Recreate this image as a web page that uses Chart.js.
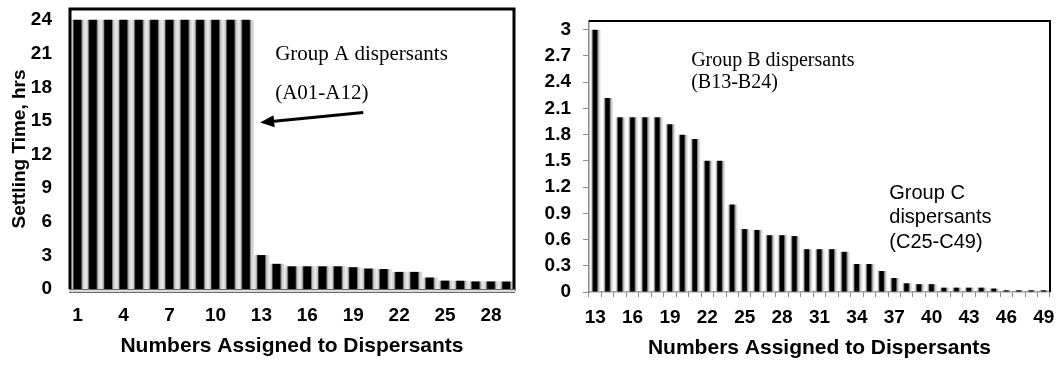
<!DOCTYPE html>
<html>
<head>
<meta charset="utf-8">
<script src="https://cdn.jsdelivr.net/npm/chart.js@4.4.1/dist/chart.umd.min.js"></script>
<style>
  html, body { margin: 0; padding: 0; background: #fff; }
  #wrap { position: relative; width: 1063px; height: 367px; }
  .panel { position: absolute; top: 0; }
</style>
</head>
<body>
<div id="wrap">
  <canvas id="left" class="panel" width="530" height="367" style="left:0"></canvas>
  <canvas id="right" class="panel" width="533" height="367" style="left:530px"></canvas>
</div>
<script>
// Dispersant numbers shown on each panel
const leftNumbers = [1,2,3,4,5,6,7,8,9,10,11,12,13,14,15,16,17,18,19,20,21,22,23,24,25,26,27,28,29];
const rightNumbers = [13,14,15,16,17,18,19,20,21,22,23,24,25,26,27,28,29,30,31,32,33,34,35,36,37,38,39,40,41,42,43,44,45,46,47,48,49];

// Settling time (hrs): group A (1-12) and groups B/C (13-49)
const groupA = [24,24,24,24,24,24,24,24,24,24,24,24];
const groupBC = [3.0,2.22,2.0,2.0,2.0,2.0,1.92,1.8,1.75,1.5,1.5,1.0,
                 0.72,0.71,0.65,0.65,0.64,0.49,0.49,0.49,0.46,0.32,0.32,0.24,0.16,
                 0.1,0.09,0.09,0.05,0.05,0.05,0.05,0.04,0.02,0.02,0.02,0.02];
const leftValues = groupA.concat(groupBC.slice(0, leftNumbers.length - groupA.length));
const rightValues = groupBC;

// Tick labels
const leftYTicks = [0,3,6,9,12,15,18,21,24];
const rightYTicks = [0,0.3,0.6,0.9,1.2,1.5,1.8,2.1,2.4,2.7,3];

const SANS = '"Liberation Sans", Arial, sans-serif';
const SERIF = '"Liberation Serif", "Times New Roman", serif';

// Shaded bar fill: soft black core with a grey sheen on its right side
function barShade(stops, frac) {
  return (c) => {
    const chart = c.chart;
    const xs = chart.scales.x;
    if (!xs || c.dataIndex === undefined) return '#000';
    const cx = xs.getPixelForValue(c.dataIndex);
    const cw = Math.abs(xs.getPixelForValue(1) - xs.getPixelForValue(0));
    if (!isFinite(cx) || !isFinite(cw) || cw === 0) return '#000';
    const bw = cw * frac;
    const g = chart.ctx.createLinearGradient(cx - bw / 2, 0, cx + bw / 2, 0);
    stops.forEach(s => g.addColorStop(s[0], s[1]));
    return g;
  };
}

// Plot frame
const framePlugin = {
  id: 'frame',
  afterDatasetsDraw(chart, args, o) {
    const { left, top, right, bottom } = chart.chartArea;
    const ctx = chart.ctx;
    ctx.save();
    ctx.strokeStyle = '#000';
    ctx.lineWidth = o.width;
    ctx.beginPath();
    if (o.leftSide) { ctx.moveTo(left, bottom); ctx.lineTo(left, top); } else { ctx.moveTo(left, top); }
    ctx.lineTo(right, top);
    ctx.lineTo(right, bottom + (o.band ? 2 : 0));
    ctx.stroke();
    if (o.band) {
      ctx.fillStyle = '#dadada';
      ctx.fillRect(left - 1, bottom, right - left + 2, 3);
      ctx.strokeStyle = '#6a6a6a';
      ctx.lineWidth = 1;
      ctx.beginPath();
      ctx.moveTo(left - 1, bottom + 0.5); ctx.lineTo(right + 1, bottom + 0.5);
      ctx.moveTo(left - 1, bottom + 3.5); ctx.lineTo(right + 1, bottom + 3.5);
      ctx.stroke();
    }
    ctx.restore();
  }
};

// Text notes placed in data coordinates
const notesPlugin = {
  id: 'notes',
  afterDraw(chart, args, o) {
    const ctx = chart.ctx;
    const xs = chart.scales.x, ys = chart.scales.y;
    ctx.save();
    ctx.fillStyle = '#000';
    ctx.textBaseline = 'middle';
    ctx.textAlign = 'left';
    (o.items || []).forEach(it => {
      ctx.font = it.font;
      ctx.fillText(it.text, xs.getPixelForValue(it.x), ys.getPixelForValue(it.y));
    });
    (o.arrows || []).forEach(a => {
      const x1 = xs.getPixelForValue(a.from[0]), y1 = ys.getPixelForValue(a.from[1]);
      const x2 = xs.getPixelForValue(a.to[0]), y2 = ys.getPixelForValue(a.to[1]);
      const ang = Math.atan2(y2 - y1, x2 - x1);
      const hl = 14, hw = 6;
      const bx = x2 - hl * Math.cos(ang), by = y2 - hl * Math.sin(ang);
      ctx.strokeStyle = '#000';
      ctx.lineWidth = 3;
      ctx.beginPath();
      ctx.moveTo(x1, y1);
      ctx.lineTo(bx, by);
      ctx.stroke();
      ctx.beginPath();
      ctx.moveTo(x2, y2);
      ctx.lineTo(bx + hw * Math.sin(ang), by - hw * Math.cos(ang));
      ctx.lineTo(bx - hw * Math.sin(ang), by + hw * Math.cos(ang));
      ctx.closePath();
      ctx.fill();
    });
    ctx.restore();
  }
};

function keepTicks(list) {
  return (scale) => {
    scale.ticks = list.map(v => ({ value: v }));
  };
}

// Fixed axis sizes so both plot boxes land where they should
function fixWidth(w) {
  return (s) => { s.width = w; s.paddingTop = 0; s.paddingBottom = 0; };
}
function fixHeight(h) {
  return (s) => { s.height = h; s.paddingLeft = 0; s.paddingRight = 0; };
}

const tickFont = { family: SANS, size: 19, weight: 'bold' };
const xTitleFont = { family: SANS, size: 21, weight: 'bold' };
const yTitleFont = { family: SANS, size: 19, weight: 'bold' };

Chart.defaults.animation = false;
Chart.defaults.color = '#000';

// Panel 1: all dispersants 1-29 (hours scale)
new Chart(document.getElementById('left'), {
  type: 'bar',
  data: {
    labels: leftNumbers,
    datasets: [{
      data: leftValues,
      barPercentage: 1,
      categoryPercentage: 1,
      borderWidth: 0,
      backgroundColor: barShade([
        [0, '#efefef'], [0.17, '#c4c4c4'], [0.24, '#333'], [0.29, '#000'],
        [0.71, '#000'], [0.77, '#707070'], [0.85, '#cfcfcf'], [1, '#dedede']
      ], 1)
    }]
  },
  options: {
    responsive: false,
    layout: { padding: { left: 0, top: 9, right: 16, bottom: 0 } },
    plugins: {
      legend: { display: false },
      tooltip: { enabled: false },
      frame: { width: 3, leftSide: true, band: true },
      notes: {
        items: [
          { text: 'Group A dispersants', x: 12.9, y: 20.9, font: '21px ' + SERIF },
          { text: '(A01-A12)', x: 12.9, y: 17.5, font: '21px ' + SERIF }
        ],
        arrows: [{ from: [18.65, 15.76], to: [11.92, 14.86] }]
      }
    },
    scales: {
      x: {
        grid: { display: false, drawTicks: false },
        border: { display: false },
        ticks: {
          autoSkip: false, maxRotation: 0, padding: 15, font: tickFont,
          callback(v, i) { return i % 3 === 0 ? String(leftNumbers[i]) : ''; }
        },
        title: { display: true, text: 'Numbers Assigned to Dispersants', font: xTitleFont, padding: { top: 0, bottom: 8 } },
        afterFit: fixHeight(78)
      },
      y: {
        min: 0, max: 25,
        grid: { display: false, drawTicks: false },
        border: { display: false },
        ticks: { padding: 18, font: tickFont },
        afterBuildTicks: keepTicks(leftYTicks),
        title: { display: true, text: 'Settling Time, hrs', font: yTitleFont, padding: { top: 8, bottom: 0 } },
        afterFit: fixWidth(70)
      }
    }
  },
  plugins: [framePlugin, notesPlugin]
});

// Panel 2: dispersants 13-49 (expanded scale)
new Chart(document.getElementById('right'), {
  type: 'bar',
  data: {
    labels: rightNumbers,
    datasets: [{
      data: rightValues,
      barPercentage: 0.9,
      categoryPercentage: 1,
      borderWidth: 0,
      backgroundColor: barShade([
        [0, 'rgba(255,255,255,0)'], [0.2, '#bbb'], [0.3, '#222'], [0.35, '#000'],
        [0.64, '#000'], [0.72, '#777'], [0.85, '#d4d4d4'], [1, '#f2f2f2']
      ], 0.9)
    }]
  },
  options: {
    responsive: false,
    layout: { padding: { left: 0, top: 21, right: 13, bottom: 0 } },
    plugins: {
      legend: { display: false },
      tooltip: { enabled: false },
      frame: { width: 2, leftSide: false, band: false },
      notes: {
        items: [
          { text: 'Group B dispersants', x: 7.7, y: 2.65, font: '20px ' + SERIF },
          { text: '(B13-B24)', x: 7.7, y: 2.39, font: '20px ' + SERIF },
          { text: 'Group C', x: 23.6, y: 1.13, font: '20px ' + SANS },
          { text: 'dispersants', x: 23.6, y: 0.856, font: '20px ' + SANS },
          { text: '(C25-C49)', x: 23.6, y: 0.571, font: '20px ' + SANS }
        ]
      }
    },
    scales: {
      x: {
        grid: { drawOnChartArea: false, drawTicks: true, tickLength: 5, color: '#8c8c8c', lineWidth: 1 },
        border: { display: true, color: '#8c8c8c', width: 1.5 },
        ticks: {
          autoSkip: false, maxRotation: 0, padding: 9, font: tickFont,
          callback(v, i) { return i % 3 === 0 ? String(rightNumbers[i]) : ''; }
        },
        title: { display: true, text: 'Numbers Assigned to Dispersants', font: xTitleFont, padding: { top: 0, bottom: 6 } },
        afterFit: fixHeight(75)
      },
      y: {
        min: 0, max: 3.1,
        grid: { drawOnChartArea: false, drawTicks: true, tickLength: 6, color: '#8c8c8c', lineWidth: 1 },
        border: { display: true, color: '#8c8c8c', width: 1.5 },
        ticks: {
          padding: 12, font: tickFont,
          callback(v) { return String(Math.round(v * 10) / 10); }
        },
        afterBuildTicks: keepTicks(rightYTicks),
        afterFit: fixWidth(59)
      }
    }
  },
  plugins: [framePlugin, notesPlugin]
});
</script>
</body>
</html>
